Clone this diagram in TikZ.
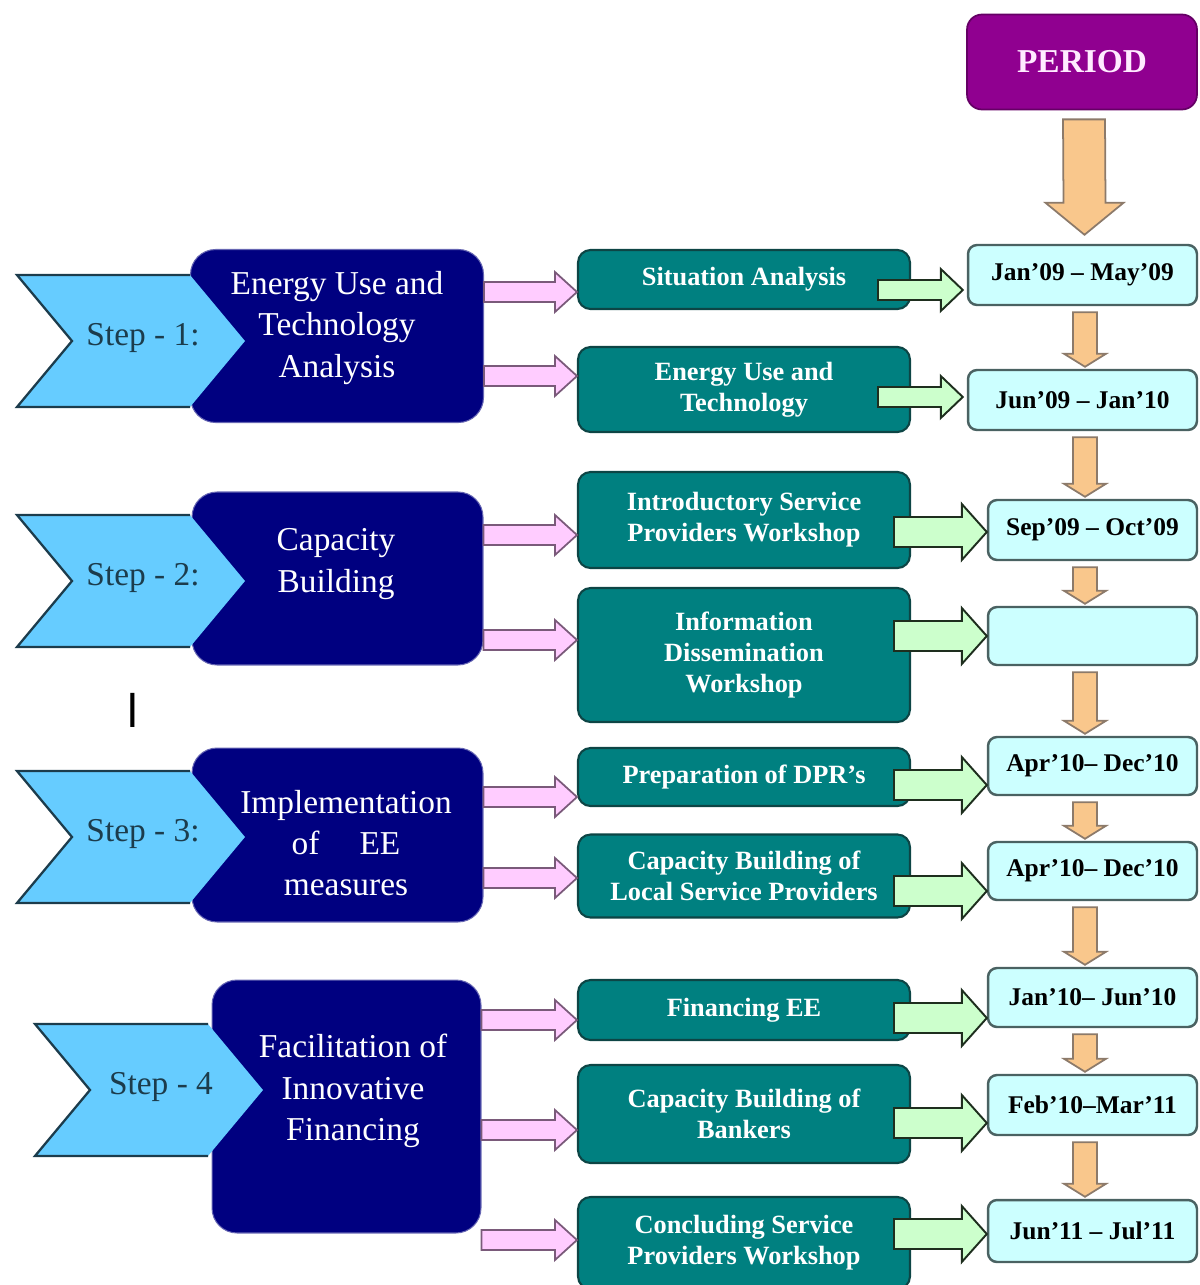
\documentclass[tikz,border=0pt]{standalone}
\usepackage{fontspec}
\setmainfont{Liberation Serif}
\usetikzlibrary{calc}
\definecolor{topicblue}{HTML}{000080}
\definecolor{stepblue}{HTML}{66CCFF}
\definecolor{stepline}{HTML}{1C3C4C}
\definecolor{taskteal}{HTML}{008080}
\definecolor{taskline}{HTML}{0D4545}
\definecolor{periodcyan}{HTML}{CCFFFF}
\definecolor{periodline}{HTML}{4A6262}
\definecolor{periodpurple}{HTML}{900090}
\definecolor{orangefill}{HTML}{F9C78C}
\definecolor{orangeline}{HTML}{8C7A6A}
\definecolor{greenfill}{HTML}{CCFFCC}
\definecolor{greenline}{HTML}{1E2E1E}
\definecolor{pinkfill}{HTML}{FFCCFF}
\definecolor{pinkline}{HTML}{7A5A7A}

% block arrows: style, start, tip, shaft half width, head half width, head length
\newcommand{\harrow}[6]{%
  \path (#2) coordinate (ha) (#3) coordinate (hb);
  \draw[#1] ($(ha)+(0,-#4)$) -- ($(hb)+(-#6,-#4)$) -- ($(hb)+(-#6,-#5)$) -- (hb)
    -- ($(hb)+(-#6,#5)$) -- ($(hb)+(-#6,#4)$) -- ($(ha)+(0,#4)$) -- cycle;}
\newcommand{\varrow}[6]{%
  \path (#2) coordinate (ha) (#3) coordinate (hb);
  \draw[#1] ($(ha)+(-#4,0)$) -- ($(hb)+(-#4,-#6)$) -- ($(hb)+(-#5,-#6)$) -- (hb)
    -- ($(hb)+(#5,-#6)$) -- ($(hb)+(#4,-#6)$) -- ($(ha)+(#4,0)$) -- cycle;}

\begin{document}
\begin{tikzpicture}[x=0.02cm, y=-0.02cm,
  topicbox/.style={draw=topicblue!60!white, line width=0.6pt, fill=topicblue, rounded corners=0.5cm, minimum width=5.86cm, minimum height=3.46cm},
  topictext/.style={text=white, align=center, font=\fontsize{19}{23.5}\selectfont},
  stepline/.style={draw=stepline, line width=1.3pt, line join=miter},
  steptext/.style={text=stepline, font=\fontsize{19}{23}\selectfont},
  taskbox/.style={draw=taskline, line width=1.2pt, fill=taskteal, rounded corners=0.25cm, minimum width=6.64cm, text=white, align=center, font=\fontsize{15}{17.5}\selectfont\bfseries},
  periodbox/.style={draw=periodline, line width=1.4pt, fill=periodcyan, rounded corners=0.18cm, minimum width=4.18cm, minimum height=1.2cm, font=\fontsize{14.5}{17}\selectfont\bfseries},
  pinkarr/.style={draw=pinkline, line width=1pt, fill=pinkfill},
  greenarr/.style={draw=greenline, line width=1.1pt, fill=greenfill},
  orangearr/.style={draw=orangeline, line width=1pt, fill=orangefill}]
  \clip (0,0) rectangle (1200,1285);

  %Steps
  \node[topicbox] (topic1) at (337,336) {};
  \node[topicbox, minimum width=5.82cm] (topic2) at (337.5,578.5) {};
  \node[topicbox, minimum width=5.82cm, minimum height=3.48cm] (topic3) at (337.5,835) {};
  \node[topicbox, minimum width=5.38cm, minimum height=5.06cm] (topic4) at (346.5,1106.5) {};

  \foreach \n/\x/\y/\t in {1/17/341/{Step - 1:}, 2/17/581/{Step - 2:}, 3/17/837/{Step - 3:}, 4/35/1090/{Step - 4}}{
    \fill[stepblue] (\x,\y-66) -- ++(173,0) -- ++(55,66) -- ++(-55,66) -- ++(-173,0) -- ++(55,-66) -- cycle;
    \draw[stepline] (\x+173,\y-66) -- (\x,\y-66) -- (\x+55,\y) -- (\x,\y+66) -- (\x+173,\y+66);
    \node[steptext] (step\n) at (\x+126,\y-3) {\t};
  }

  \node[topictext] (topic1t) at (337,328) {Energy Use and\\Technology\\Analysis};
  \node[topictext] (topic2t) at (336,564) {Capacity\\Building};
  \node[topictext] (topic3t) at (346,843) {Implementation\\of\hspace{1.2em}EE\\measures};
  \node[topictext] (topic4t) at (353,1091) {Facilitation of\\Innovative\\Financing};

  \node[font=\fontsize{28}{28}\selectfont\sffamily] (cursor) at (133,710) {I};

  %Tasks
  \node[taskbox, minimum height=1.18cm] (task1) at (744,279.5) {Situation Analysis};
  \node[taskbox, minimum height=1.7cm] (task2) at (744,389.5) {Energy Use and\\Technology};
  \node[taskbox, minimum height=1.92cm] (task3) at (744,520) {Introductory Service\\Providers Workshop};
  \node[taskbox, minimum height=2.68cm] (task4) at (744,655) {Information\\Dissemination\\Workshop};
  \node[taskbox, minimum height=1.16cm] (task5) at (744,777) {Preparation of DPR's};
  \node[taskbox, minimum height=1.66cm] (task6) at (744,876) {Capacity Building of\\Local Service Providers};
  \node[taskbox, minimum height=1.2cm] (task7) at (744,1010) {Financing EE};
  \node[taskbox, minimum height=1.96cm] (task8) at (744,1114) {Capacity Building of\\Bankers};
  \node[taskbox, minimum height=1.84cm] (task9) at (744,1243) {Concluding Service\\Providers Workshop};

  \foreach \a/\b/\y in {1/1/292, 1/2/376, 2/3/535, 2/4/640, 3/5/797, 3/6/878, 4/7/1020, 4/8/1130, 4/9/1240}
    \harrow{pinkarr}{topic\a.east |- 0,\y}{task\b.west |- 0,\y}{10}{20}{22};

  %Periods
  \node[draw=periodpurple!70!black, line width=1pt, fill=periodpurple, rounded corners=0.3cm, minimum width=4.6cm, minimum height=1.9cm, text=pinkfill!40!white, font=\fontsize{19}{23}\selectfont\bfseries] (periodhead) at (1082,62) {PERIOD};
  \node[periodbox, minimum width=4.58cm] (period1) at (1082.5,275) {Jan'09 -- May'09};
  \node[periodbox, minimum width=4.58cm] (period2) at (1082.5,400) {Jun'09 -- Jan'10};
  \node[periodbox] (period3) at (1092.5,530) {Sep'09 -- Oct'09};
  \node[periodbox, minimum height=1.16cm] (period4) at (1092.5,636) {};
  \node[periodbox, minimum height=1.16cm] (period5) at (1092.5,766) {Apr'10-- Dec'10};
  \node[periodbox, minimum height=1.16cm] (period6) at (1092.5,871) {Apr'10-- Dec'10};
  \node[periodbox, minimum height=1.18cm] (period7) at (1092.5,997.5) {Jan'10-- Jun'10};
  \node[periodbox] (period8) at (1092.5,1105) {Feb'10--Mar'11};
  \node[periodbox, minimum height=1.24cm] (period9) at (1092.5,1231) {Jun'11 -- Jul'11};

  \varrow{orangearr}{$(periodhead.south)+(2,9)$}{$(period1.north)+(2,-9)$}{21}{39}{32};
  \foreach \a/\b in {1/2, 2/3, 3/4, 4/5, 5/6, 6/7, 7/8, 8/9}
    \varrow{orangearr}{$(1085,0 |- period\a.south)+(0,6)$}{$(1085,0 |- period\b.north)+(0,-2)$}{12}{21}{13};

  %Links to periods
  \foreach \k/\y in {1/290, 2/397}
    \harrow{greenarr}{$(task\k.east |- 0,\y)+(-33,0)$}{$(period\k.west |- 0,\y)+(-4,0)$}{10}{21}{22};
  \foreach \k/\y in {3/532, 4/636, 5/785, 6/891, 7/1018, 8/1123, 9/1234}
    \harrow{greenarr}{$(task\k.east |- 0,\y)+(-17,0)$}{period\k.west |- 0,\y}{15}{28}{25};
\end{tikzpicture}
\end{document}
